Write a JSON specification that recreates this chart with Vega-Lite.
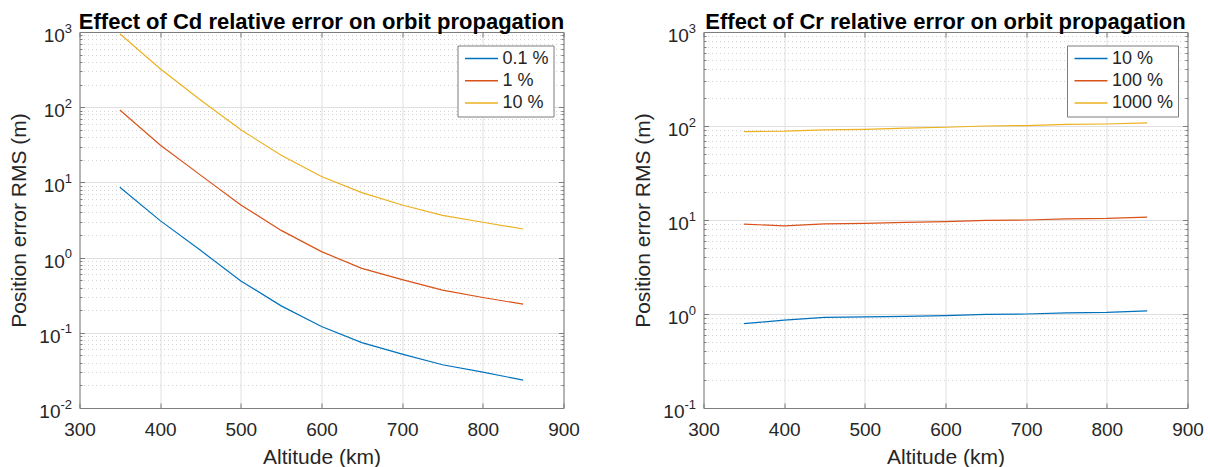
{
  "$schema": "https://vega.github.io/schema/vega-lite/v6.json",
  "background": "white",
  "padding": {"left": 8.5, "top": 10, "right": 5, "bottom": 0},
  "config": {
    "font": "Liberation Sans",
    "view": {"stroke": null},
    "axis": {
      "labelFont": "Liberation Sans",
      "labelFontSize": 19,
      "labelColor": "#262626",
      "titleFont": "Liberation Sans",
      "titleFontSize": 21,
      "titleFontWeight": "normal",
      "titleColor": "#262626",
      "domainColor": "#7d7d7d",
      "domainWidth": 1,
      "tickColor": "#7d7d7d",
      "tickWidth": 1,
      "gridColor": "#e0e0e0",
      "gridWidth": 1,
      "labelOverlap": false,
      "labelBound": false,
      "labelFlush": false
    },
    "title": {
      "font": "Liberation Sans",
      "fontSize": 22,
      "fontWeight": "bold",
      "color": "#000000",
      "anchor": "middle",
      "offset": -11.5
    },
    "legend": {
      "title": null,
      "orient": "none",
      "strokeColor": "#7d7d7d",
      "fillColor": "white",
      "padding": 4,
      "symbolType": "M-3,0H3",
      "symbolSize": 121,
      "symbolOffset": 11,
      "symbolStrokeWidth": 1.5,
      "labelOffset": 12,
      "labelFont": "Liberation Sans",
      "labelFontSize": 18,
      "labelColor": "#262626",
      "rowPadding": 4.2,
      "cornerRadius": 0
    }
  },
  "datasets": {
    "cd": [
      {"level": "0.1 %", "altitude": 350, "rms": 8.6},
      {"level": "0.1 %", "altitude": 400, "rms": 3.1},
      {"level": "0.1 %", "altitude": 450, "rms": 1.25},
      {"level": "0.1 %", "altitude": 500, "rms": 0.49},
      {"level": "0.1 %", "altitude": 550, "rms": 0.228},
      {"level": "0.1 %", "altitude": 600, "rms": 0.121},
      {"level": "0.1 %", "altitude": 650, "rms": 0.074},
      {"level": "0.1 %", "altitude": 700, "rms": 0.052},
      {"level": "0.1 %", "altitude": 750, "rms": 0.0376},
      {"level": "0.1 %", "altitude": 800, "rms": 0.030},
      {"level": "0.1 %", "altitude": 850, "rms": 0.0235},
      {"level": "1 %", "altitude": 350, "rms": 92},
      {"level": "1 %", "altitude": 400, "rms": 31.5},
      {"level": "1 %", "altitude": 450, "rms": 12.5},
      {"level": "1 %", "altitude": 500, "rms": 5.0},
      {"level": "1 %", "altitude": 550, "rms": 2.3},
      {"level": "1 %", "altitude": 600, "rms": 1.2},
      {"level": "1 %", "altitude": 650, "rms": 0.72},
      {"level": "1 %", "altitude": 700, "rms": 0.51},
      {"level": "1 %", "altitude": 750, "rms": 0.37},
      {"level": "1 %", "altitude": 800, "rms": 0.295},
      {"level": "1 %", "altitude": 850, "rms": 0.24},
      {"level": "10 %", "altitude": 350, "rms": 950},
      {"level": "10 %", "altitude": 400, "rms": 325},
      {"level": "10 %", "altitude": 450, "rms": 125},
      {"level": "10 %", "altitude": 500, "rms": 50},
      {"level": "10 %", "altitude": 550, "rms": 23},
      {"level": "10 %", "altitude": 600, "rms": 12},
      {"level": "10 %", "altitude": 650, "rms": 7.3},
      {"level": "10 %", "altitude": 700, "rms": 5.0},
      {"level": "10 %", "altitude": 750, "rms": 3.65},
      {"level": "10 %", "altitude": 800, "rms": 2.95},
      {"level": "10 %", "altitude": 850, "rms": 2.4}
    ],
    "cr": [
      {"level": "10 %", "altitude": 350, "rms": 0.79},
      {"level": "10 %", "altitude": 400, "rms": 0.86},
      {"level": "10 %", "altitude": 450, "rms": 0.92},
      {"level": "10 %", "altitude": 500, "rms": 0.93},
      {"level": "10 %", "altitude": 550, "rms": 0.945},
      {"level": "10 %", "altitude": 600, "rms": 0.96},
      {"level": "10 %", "altitude": 650, "rms": 0.99},
      {"level": "10 %", "altitude": 700, "rms": 1.0},
      {"level": "10 %", "altitude": 750, "rms": 1.03},
      {"level": "10 %", "altitude": 800, "rms": 1.04},
      {"level": "10 %", "altitude": 850, "rms": 1.08},
      {"level": "100 %", "altitude": 350, "rms": 9.05},
      {"level": "100 %", "altitude": 400, "rms": 8.65},
      {"level": "100 %", "altitude": 450, "rms": 9.1},
      {"level": "100 %", "altitude": 500, "rms": 9.2},
      {"level": "100 %", "altitude": 550, "rms": 9.45},
      {"level": "100 %", "altitude": 600, "rms": 9.6},
      {"level": "100 %", "altitude": 650, "rms": 9.9},
      {"level": "100 %", "altitude": 700, "rms": 10.0},
      {"level": "100 %", "altitude": 750, "rms": 10.3},
      {"level": "100 %", "altitude": 800, "rms": 10.4},
      {"level": "100 %", "altitude": 850, "rms": 10.75},
      {"level": "1000 %", "altitude": 350, "rms": 87},
      {"level": "1000 %", "altitude": 400, "rms": 88},
      {"level": "1000 %", "altitude": 450, "rms": 91},
      {"level": "1000 %", "altitude": 500, "rms": 92},
      {"level": "1000 %", "altitude": 550, "rms": 95},
      {"level": "1000 %", "altitude": 600, "rms": 97},
      {"level": "1000 %", "altitude": 650, "rms": 100},
      {"level": "1000 %", "altitude": 700, "rms": 101},
      {"level": "1000 %", "altitude": 750, "rms": 104},
      {"level": "1000 %", "altitude": 800, "rms": 105},
      {"level": "1000 %", "altitude": 850, "rms": 108}
    ]
  },
  "hconcat": [
    {
      "width": 484,
      "height": 376,
      "title": "Effect of Cd relative error on orbit propagation",
      "data": {"name": "cd"},
      "layer": [
        {
          "mark": {"type": "line", "strokeWidth": 1.2},
          "encoding": {
            "x": {
              "field": "altitude",
              "type": "quantitative",
              "scale": {"domain": [300, 900], "nice": false, "zero": false},
              "axis": {
                "orient": "bottom",
                "title": "Altitude (km)",
                "values": [300, 400, 500, 600, 700, 800, 900],
                "grid": true,
                "tickSize": -5,
                "labelPadding": 17,
                "titlePadding": 7
              }
            },
            "y": {
              "field": "rms",
              "type": "quantitative",
              "scale": {"type": "log", "domain": [0.01, 1000], "nice": false},
              "axis": {
                "orient": "left",
                "title": "Position error RMS (m)",
                "values": [0.01, 0.02, 0.03, 0.04, 0.05, 0.06, 0.07, 0.08, 0.09, 0.1, 0.2, 0.3, 0.4, 0.5, 0.6, 0.7, 0.8, 0.9, 1, 2, 3, 4, 5, 6, 7, 8, 9, 10, 20, 30, 40, 50, 60, 70, 80, 90, 100, 200, 300, 400, 500, 600, 700, 800, 900, 1000],
                "labelExpr": "abs(log(datum.value)/LN10 - round(log(datum.value)/LN10)) < 1e-6 ? '10' : ''",
                "gridDash": {"condition": {"test": "abs(log(datum.value)/LN10 - round(log(datum.value)/LN10)) < 1e-6", "value": []}, "value": [1, 3]},
                "gridColor": {"condition": {"test": "abs(log(datum.value)/LN10 - round(log(datum.value)/LN10)) < 1e-6", "value": "#e0e0e0"}, "value": "#d2d2d2"},
                "tickSize": {"condition": {"test": "abs(log(datum.value)/LN10 - round(log(datum.value)/LN10)) < 1e-6", "value": -5}, "value": -2.5},
                "labelPadding": {"condition": {"test": "datum.value < 0.99", "value": 24.5}, "value": 20.2},
                "labelOffset": 3.5,
                "titlePadding": 9
              }
            },
            "color": {
              "field": "level",
              "type": "nominal",
              "scale": {"domain": ["0.1 %", "1 %", "10 %"], "range": ["#0072BD", "#D95319", "#EDB120"]},
              "legend": {"legendX": 378, "legendY": 13.5}
            }
          }
        },
        {
          "mark": {"type": "line", "opacity": 0},
          "encoding": {
            "x": {
              "field": "altitude",
              "type": "quantitative",
              "axis": {"orient": "top", "title": null, "values": [300, 400, 500, 600, 700, 800, 900], "labels": false, "grid": false, "tickSize": -5}
            },
            "y": {
              "field": "rms",
              "type": "quantitative",
              "axis": {
                "orient": "right",
                "title": null,
                "values": [0.01, 0.02, 0.03, 0.04, 0.05, 0.06, 0.07, 0.08, 0.09, 0.1, 0.2, 0.3, 0.4, 0.5, 0.6, 0.7, 0.8, 0.9, 1, 2, 3, 4, 5, 6, 7, 8, 9, 10, 20, 30, 40, 50, 60, 70, 80, 90, 100, 200, 300, 400, 500, 600, 700, 800, 900, 1000],
                "labels": false,
                "grid": false,
                "tickSize": {"condition": {"test": "abs(log(datum.value)/LN10 - round(log(datum.value)/LN10)) < 1e-6", "value": -5}, "value": -2.5}
              }
            }
          }
        },
        {
          "mark": {"type": "line", "opacity": 0},
          "encoding": {
            "x": {"field": "altitude", "type": "quantitative", "axis": null},
            "y": {
              "field": "rms",
              "type": "quantitative",
              "axis": {
                "orient": "left",
                "title": null,
                "values": [0.01, 0.1, 1, 10, 100, 1000],
                "labelExpr": "toString(round(log(datum.value)/LN10))",
                "labelFontSize": 13,
                "labelAlign": "right",
                "labelPadding": 8,
                "labelOffset": -4,
                "ticks": false,
                "domain": false,
                "grid": false
              }
            }
          }
        }
      ],
      "resolve": {"axis": {"x": "independent", "y": "independent"}}
    },
    {
      "width": 484,
      "height": 376,
      "title": "Effect of Cr relative error on orbit propagation",
      "data": {"name": "cr"},
      "layer": [
        {
          "mark": {"type": "line", "strokeWidth": 1.2},
          "encoding": {
            "x": {
              "field": "altitude",
              "type": "quantitative",
              "scale": {"domain": [300, 900], "nice": false, "zero": false},
              "axis": {
                "orient": "bottom",
                "title": "Altitude (km)",
                "values": [300, 400, 500, 600, 700, 800, 900],
                "grid": true,
                "tickSize": -5,
                "labelPadding": 17,
                "titlePadding": 7
              }
            },
            "y": {
              "field": "rms",
              "type": "quantitative",
              "scale": {"type": "log", "domain": [0.1, 1000], "nice": false},
              "axis": {
                "orient": "left",
                "title": "Position error RMS (m)",
                "values": [0.1, 0.2, 0.3, 0.4, 0.5, 0.6, 0.7, 0.8, 0.9, 1, 2, 3, 4, 5, 6, 7, 8, 9, 10, 20, 30, 40, 50, 60, 70, 80, 90, 100, 200, 300, 400, 500, 600, 700, 800, 900, 1000],
                "labelExpr": "abs(log(datum.value)/LN10 - round(log(datum.value)/LN10)) < 1e-6 ? '10' : ''",
                "gridDash": {"condition": {"test": "abs(log(datum.value)/LN10 - round(log(datum.value)/LN10)) < 1e-6", "value": []}, "value": [1, 3]},
                "gridColor": {"condition": {"test": "abs(log(datum.value)/LN10 - round(log(datum.value)/LN10)) < 1e-6", "value": "#e0e0e0"}, "value": "#d2d2d2"},
                "tickSize": {"condition": {"test": "abs(log(datum.value)/LN10 - round(log(datum.value)/LN10)) < 1e-6", "value": -5}, "value": -2.5},
                "labelPadding": {"condition": {"test": "datum.value < 0.99", "value": 24.5}, "value": 20.2},
                "labelOffset": 3.5,
                "titlePadding": 9
              }
            },
            "color": {
              "field": "level",
              "type": "nominal",
              "scale": {"domain": ["10 %", "100 %", "1000 %"], "range": ["#0072BD", "#D95319", "#EDB120"]},
              "legend": {"legendX": 363.5, "legendY": 13.5}
            }
          }
        },
        {
          "mark": {"type": "line", "opacity": 0},
          "encoding": {
            "x": {
              "field": "altitude",
              "type": "quantitative",
              "axis": {"orient": "top", "title": null, "values": [300, 400, 500, 600, 700, 800, 900], "labels": false, "grid": false, "tickSize": -5}
            },
            "y": {
              "field": "rms",
              "type": "quantitative",
              "axis": {
                "orient": "right",
                "title": null,
                "values": [0.1, 0.2, 0.3, 0.4, 0.5, 0.6, 0.7, 0.8, 0.9, 1, 2, 3, 4, 5, 6, 7, 8, 9, 10, 20, 30, 40, 50, 60, 70, 80, 90, 100, 200, 300, 400, 500, 600, 700, 800, 900, 1000],
                "labels": false,
                "grid": false,
                "tickSize": {"condition": {"test": "abs(log(datum.value)/LN10 - round(log(datum.value)/LN10)) < 1e-6", "value": -5}, "value": -2.5}
              }
            }
          }
        },
        {
          "mark": {"type": "line", "opacity": 0},
          "encoding": {
            "x": {"field": "altitude", "type": "quantitative", "axis": null},
            "y": {
              "field": "rms",
              "type": "quantitative",
              "axis": {
                "orient": "left",
                "title": null,
                "values": [0.1, 1, 10, 100, 1000],
                "labelExpr": "toString(round(log(datum.value)/LN10))",
                "labelFontSize": 13,
                "labelAlign": "right",
                "labelPadding": 8,
                "labelOffset": -4,
                "ticks": false,
                "domain": false,
                "grid": false
              }
            }
          }
        }
      ],
      "resolve": {"axis": {"x": "independent", "y": "independent"}}
    }
  ],
  "spacing": 140,
  "bounds": "flush",
  "resolve": {"scale": {"color": "independent"}, "legend": {"color": "independent"}}
}
